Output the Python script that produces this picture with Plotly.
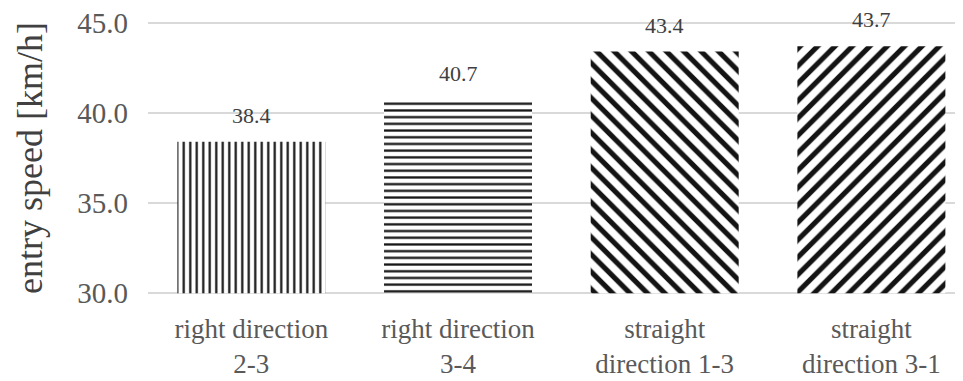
import plotly.graph_objects as go

categories = ["right direction<br>2-3", "right direction<br>3-4",
              "straight<br>direction 1-3", "straight<br>direction 3-1"]
values = [38.4, 40.7, 43.4, 43.7]
value_labels = ["38.4", "40.7", "43.4", "43.7"]
tick_vals = [30, 35, 40, 45]
tick_text = ["30.0", "35.0", "40.0", "45.0"]
axis_min = 30
patterns = ["|", "-", "\\", "/"]
pattern_sizes = [6.5, 6.7, 12.3, 12.3]
pattern_solidity = [0.34, 0.34, 0.42, 0.42]

FONT = "Liberation Serif, Times New Roman, serif"

fig = go.Figure()
for i, (c, v) in enumerate(zip(categories, values)):
    fig.add_trace(go.Bar(
        x=[c], y=[v - axis_min], base=axis_min,
        marker=dict(
            color="white",
            line=dict(width=0),
            pattern=dict(shape=patterns[i], size=pattern_sizes[i],
                         solidity=pattern_solidity[i], fgcolor="#141414",
                         fgopacity=1, bgcolor="white", fillmode="replace"),
        ),
        showlegend=False,
    ))

for c, v, t in zip(categories, values, value_labels):
    fig.add_annotation(x=c, y=v, text=t, showarrow=False, yanchor="bottom",
                       yshift=12, font=dict(family=FONT, size=22, color="#404040"))

fig.add_annotation(xref="paper", yref="paper", x=0, y=0.5, xshift=-118,
                   text="entry speed [km/h]", textangle=-90, showarrow=False,
                   xanchor="center", yanchor="middle",
                   font=dict(family=FONT, size=36, color="#404040"))

fig.update_layout(
    width=963, height=381,
    margin=dict(l=140, r=0, t=12, b=93),
    paper_bgcolor="white", plot_bgcolor="white",
    bargap=0.284,
    barmode="overlay",
    xaxis=dict(
        type="category", categoryorder="array", categoryarray=categories,
        range=[-0.5, 3.482], showgrid=False, zeroline=False, showline=False,
        tickfont=dict(family=FONT, size=27, color="#595959"),
        ticks="", ticklabelstandoff=14, automargin=False,
        ticklabeloverflow="allow",
    ),
    yaxis=dict(
        range=[29.85, 45.15], tickvals=tick_vals, ticktext=tick_text,
        showgrid=True, gridcolor="#d9d9d9", gridwidth=1.5,
        zeroline=False, showline=False,
        tickfont=dict(family=FONT, size=29, color="#595959"),
        ticks="", ticklabelstandoff=19, automargin=False,
        ticklabeloverflow="allow",
    ),
)

fig.write_html("out.html")
